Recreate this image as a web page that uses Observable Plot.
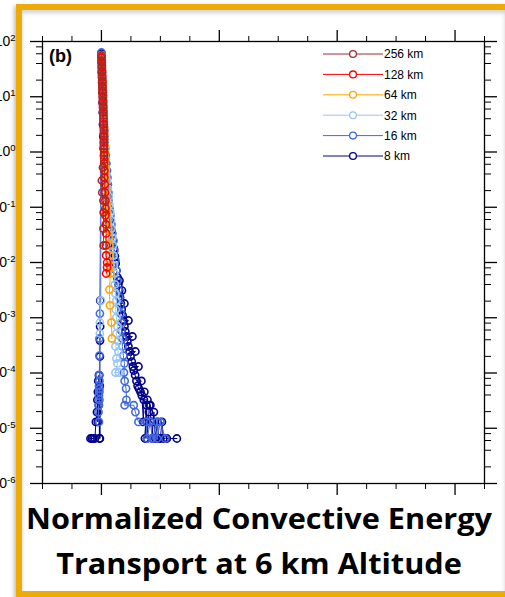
<!DOCTYPE html>
<html><head><meta charset="utf-8">
<script src="https://cdn.jsdelivr.net/npm/d3@7"></script>
<script src="https://cdn.jsdelivr.net/npm/@observablehq/plot@0.6"></script>
<style>
body{margin:0;background:#fff;}
#wrap{position:relative;width:505px;height:597px;overflow:hidden;background:#fff;}
#chart{position:absolute;left:0;top:0;}
#title{position:absolute;left:0;width:518px;top:496px;text-align:center;font-family:"Open Sans",sans-serif;font-weight:700;font-size:28px;line-height:45px;color:#000;white-space:nowrap;transform:scaleX(1.095);transform-origin:259px 0;}
#frame{position:absolute;left:16px;top:4px;width:489px;height:593px;box-sizing:border-box;border:6px solid #EFAA05;border-right:0;box-shadow:-2px 2px 4px rgba(0,0,0,0.25), inset 0 3px 4px rgba(0,0,0,0.18);pointer-events:none;}
</style></head>
<body>
<div id="wrap"><div id="chart"></div><div id="title">Normalized Convective Energy<br>Transport at 6 km Altitude</div><div id="frame"></div></div>
<script>
const labels = ["256 km","128 km","64 km","32 km","16 km","8 km"];
const colors = ["#A52A2A","#FF0000","#FFA500","#97C6F4","#4169E1","#00008B"];

const km256 = [[0,55.8],[0.002,45.3],[0.003,36.8],[0.004,29.9],[0.005,24.3],[0.007,19.7],[0.008,16.0],[0.010,13.0],[0.012,10.5],[0.013,8.55],[0.014,6.95],[0.015,5.64],[0.017,4.58],[0.017,3.56],[0.019,2.77],[0.019,2.16],[0.021,1.68],[0.021,1.31],[0.024,0.98],[0.024,0.731],[0.013,0.524],[0.004,0.305],[0.007,0.185],[0.017,0.132],[0.019,0.0804],[0.017,0.0412],[0.019,0.0203]];
const km128 = [[0,51.3],[0.002,41.7],[0.003,33.8],[0.004,27.5],[0.005,22.3],[0.007,18.1],[0.008,14.7],[0.010,11.9],[0.012,9.69],[0.013,7.87],[0.014,6.38],[0.015,5.19],[0.017,4.04],[0.019,3.15],[0.021,2.45],[0.021,1.91],[0.019,1.49],[0.019,1.16],[0.021,0.865],[0.024,0.619],[0.025,0.462],[0.025,0.345],[0.028,0.258],[0.030,0.185],[0.034,0.132],[0.034,0.0948],[0.034,0.0710],[0.038,0.0488],[0.040,0.0335],[0.038,0.0203],[0.040,0.0134],[0.048,0.0100],[0.048,0.00813],[0.040,0.00632]];
const km64 = [[0.002,55.8],[0.003,45.3],[0.004,36.8],[0.005,29.9],[0.007,24.3],[0.008,19.7],[0.010,16.0],[0.012,13.0],[0.013,10.5],[0.014,8.55],[0.015,6.95],[0.017,5.64],[0.019,4.58],[0.021,3.56],[0.024,2.77],[0.025,2.16],[0.025,1.68],[0.028,1.31],[0.030,0.98],[0.032,0.731],[0.034,0.524],[0.036,0.392],[0.038,0.305],[0.041,0.218],[0.042,0.157],[0.047,0.112],[0.051,0.0804],[0.055,0.0575],[0.059,0.0412],[0.064,0.0283],[0.068,0.0203],[0.068,0.0134],[0.072,0.00883],[0.076,0.00632],[0.068,0.00324],[0.072,0.00167],[0.085,0.000820],[0.089,0.000421]];
const km32 = [[-0.013,0.000519],[-0.013,0.000820],[-0.004,0.00205],[0.002,55.8],[0.003,45.3],[0.004,36.8],[0.005,29.9],[0.007,24.3],[0.008,19.7],[0.010,16.0],[0.012,13.0],[0.013,10.5],[0.014,8.55],[0.015,6.95],[0.017,5.64],[0.019,4.58],[0.021,3.56],[0.024,2.77],[0.025,2.16],[0.028,1.68],[0.030,1.31],[0.030,0.98],[0.034,0.731],[0.038,0.524],[0.042,0.392],[0.047,0.305],[0.055,0.218],[0.062,0.157],[0.068,0.112],[0.076,0.0804],[0.081,0.0575],[0.085,0.0412],[0.093,0.0283],[0.097,0.0203],[0.102,0.0134],[0.106,0.00883],[0.110,0.00632],[0.114,0.00400],[0.119,0.00275],[0.127,0.00205],[0.121,0.00141],[0.127,0.00101],[0.136,0.000695],[0.127,0.000519],[0.144,0.000372],[0.119,0.000302],[0.144,0.000245],[0.127,0.000183],[0.136,0.000149],[0.119,0.000102],[0.147,0.000102]];
const km16 = [[-0.021,1.30e-5],[-0.025,1.96e-5],[-0.021,2.61e-5],[-0.017,3.26e-5],[-0.021,3.91e-5],[-0.017,4.56e-5],[-0.017,5.22e-5],[-0.021,5.87e-5],[-0.017,7.17e-5],[-0.017,9.13e-5],[-0.017,2.07e-4],[-0.017,4.21e-4],[-0.013,1.19e-3],[0,63.2],[0.002,51.3],[0.003,41.7],[0.004,33.8],[0.005,27.5],[0.007,22.3],[0.008,18.1],[0.010,14.7],[0.012,11.9],[0.013,9.69],[0.014,7.87],[0.015,6.38],[0.017,5.19],[0.019,4.04],[0.021,3.15],[0.024,2.45],[0.025,1.91],[0.028,1.49],[0.032,1.16],[0.036,0.865],[0.042,0.619],[0.047,0.462],[0.051,0.345],[0.055,0.258],[0.059,0.185],[0.059,0.132],[0.068,0.0948],[0.076,0.0710],[0.085,0.0488],[0.093,0.0335],[0.102,0.0250],[0.110,0.0165],[0.119,0.0109],[0.127,0.00716],[0.136,0.00472],[0.144,0.00324],[0.153,0.00233],[0.161,0.00167],[0.165,0.00119],[0.169,0.000820],[0.169,0.000587],[0.178,0.000421],[0.178,0.000302],[0.186,0.000207],[0.195,0.000149],[0.191,0.000102],[0.197,7.17e-5],[0.209,5.22e-5],[0.212,3.26e-5],[0.197,2.61e-5],[0.274,2.61e-5],[0.288,1.96e-5],[0.314,1.30e-5],[0.381,1.30e-5],[0.387,6.52e-6],[0.415,1.30e-5],[0.432,6.52e-6],[0.472,1.30e-5],[0.472,6.52e-6],[0.500,1.30e-5],[0.542,6.52e-6]];
const km8 = [[-0.093,6.52e-6],[-0.081,6.52e-6],[-0.068,6.52e-6],[-0.055,6.52e-6],[-0.047,1.30e-5],[-0.038,1.96e-5],[-0.034,3.26e-5],[-0.030,1.30e-5],[-0.030,4.56e-5],[-0.027,7.17e-5],[-0.023,2.61e-5],[-0.021,9.13e-5],[-0.017,6.52e-6],[-0.014,5.87e-5],[-0.013,6.52e-6],[-0.013,1.99e-4],[-0.012,3.87e-4],[-0.011,6.95e-4],[-0.010,2.05e-3],[0,60.7],[0.003,41.7],[0.004,27.5],[0.006,18.1],[0.008,11.9],[0.009,7.87],[0.011,5.19],[0.013,3.15],[0.016,1.91],[0.020,1.16],[0.025,0.701],[0.032,0.426],[0.041,0.258],[0.051,0.157],[0.062,0.0948],[0.073,0.0575],[0.085,0.0379],[0.097,0.0250],[0.106,0.0179],[0.114,0.0129],[0.121,0.00960],[0.127,0.00716],[0.136,0.00536],[0.144,0.00400],[0.153,0.00472],[0.151,0.00311],[0.158,0.00233],[0.174,0.00311],[0.165,0.00181],[0.195,0.00181],[0.172,0.00141],[0.180,0.00110],[0.186,0.000891],[0.229,0.000891],[0.195,0.000695],[0.203,0.000564],[0.212,0.000458],[0.263,0.000458],[0.220,0.000372],[0.229,0.000302],[0.239,0.000245],[0.288,0.000245],[0.247,0.000199],[0.257,0.000161],[0.267,0.000131],[0.314,0.000131],[0.275,0.000111],[0.286,9.13e-5],[0.297,7.17e-5],[0.339,7.17e-5],[0.307,5.87e-5],[0.318,5.22e-5],[0.331,4.56e-5],[0.364,4.56e-5],[0.343,3.91e-5],[0.356,1.30e-5],[0.360,3.26e-5],[0.390,3.26e-5],[0.369,6.52e-6],[0.381,2.61e-5],[0.387,1.30e-5],[0.387,6.52e-6],[0.403,1.96e-5],[0.407,2.61e-5],[0.415,2.61e-5],[0.419,1.30e-5],[0.430,1.30e-5],[0.430,6.52e-6],[0.445,1.96e-5],[0.458,6.52e-6],[0.475,1.30e-5],[0.487,6.52e-6],[0.500,6.52e-6],[0.513,1.30e-5],[0.525,6.52e-6],[0.542,6.52e-6],[0.555,6.52e-6],[0.640,6.52e-6]];

const seriesData = [km256, km128, km64, km32, km16, km8];
const drawOrder = [5,4,3,2,1,0];

const yMajorTicks = [1e-6,1e-5,1e-4,1e-3,1e-2,1e-1,1,10,100];
const yMinorMult = [2,4,6,8];
const yMinorTicks = yMajorTicks.slice(0,-1).flatMap(p => yMinorMult.map(m => m*p));
const xMajorTicks = [0,1,2,3];
const xMinorTicks = [-0.5,-0.25,0.25,0.5,0.75,1.25,1.5,1.75,2.25,2.5,2.75,3.25];

const blank = () => "";
const dataMarks = [];
drawOrder.forEach(i => {
  const d = seriesData[i].map(([x,y]) => ({x, y, series: labels[i]}));
  dataMarks.push(Plot.line(d, {x:"x", y:"y", stroke: colors[i], strokeWidth: 1}));
  dataMarks.push(Plot.dot(d, {x:"x", y:"y", r: 3.6, stroke: colors[i], strokeWidth: 1.6, fill: "none"}));
});

const chart = Plot.plot({
  width: 505, height: 500,
  marginLeft: 42, marginRight: 21, marginTop: 41, marginBottom: 17,
  style: {fontFamily: "'Liberation Sans', Arial, sans-serif", fontSize: "14px", background: "transparent", color: "#000"},
  x: {domain: [-0.5, 3.25]},
  y: {type: "log", domain: [1e-6, 100]},
  marks: [
    ...dataMarks,
    Plot.frame({stroke: "#000", strokeWidth: 1.3}),
    Plot.axisY(yMajorTicks, {anchor: "left", tickSize: 12, tickPadding: 15, strokeWidth: 1.3, tickFormat: d => "10^" + Math.round(Math.log10(d)), label: null}),
    Plot.axisY(yMinorTicks, {anchor: "left", tickSize: 6, strokeWidth: 1, tickFormat: blank, label: null}),
    Plot.axisY(yMajorTicks, {anchor: "right", tickSize: 12, strokeWidth: 1.3, tickFormat: blank, label: null}),
    Plot.axisY(yMinorTicks, {anchor: "right", tickSize: 6, strokeWidth: 1, tickFormat: blank, label: null}),
    Plot.axisX(xMajorTicks, {anchor: "top", tickSize: 12, strokeWidth: 1.3, tickFormat: blank, label: null}),
    Plot.axisX(xMinorTicks, {anchor: "top", tickSize: 6, strokeWidth: 1, tickFormat: blank, label: null}),
    Plot.axisX(xMajorTicks, {anchor: "bottom", tickSize: 12, strokeWidth: 1.3, tickFormat: blank, label: null}),
    Plot.axisX(xMinorTicks, {anchor: "bottom", tickSize: 6, strokeWidth: 1, tickFormat: blank, label: null})
  ]
});

const svg = d3.select(chart);
svg.selectAll("text").each(function() {
  const m = /^10\^(-?\d+)$/.exec(this.textContent);
  if (m) {
    const t = d3.select(this);
    t.text("10");
    t.append("tspan").attr("dy", "-0.55em").attr("font-size", "9.5px").text(m[1]);
  }
});

// legend
const lg = svg.append("g").attr("font-family", "'Liberation Sans', Arial, sans-serif").attr("font-size", 12).attr("text-anchor", "start");
labels.forEach((name, i) => {
  const y = 54 + i * 20.4;
  lg.append("line").attr("x1", 323).attr("x2", 383).attr("y1", y).attr("y2", y).attr("stroke", colors[i]).attr("stroke-width", 1);
  lg.append("circle").attr("cx", 353).attr("cy", y).attr("r", 3.4).attr("fill", "#fff").attr("stroke", colors[i]).attr("stroke-width", 1.3);
  lg.append("text").attr("x", 384).attr("y", y).attr("dy", "0.36em").attr("text-anchor", "start").attr("fill", "#000").text(name);
});
svg.append("text").attr("x", 49).attr("y", 62).attr("text-anchor", "start").attr("font-family", "'Liberation Sans', Arial, sans-serif").attr("font-weight", "bold").attr("font-size", 18).attr("fill", "#000").text("(b)");

document.getElementById("chart").appendChild(chart);
</script>
</body></html>
